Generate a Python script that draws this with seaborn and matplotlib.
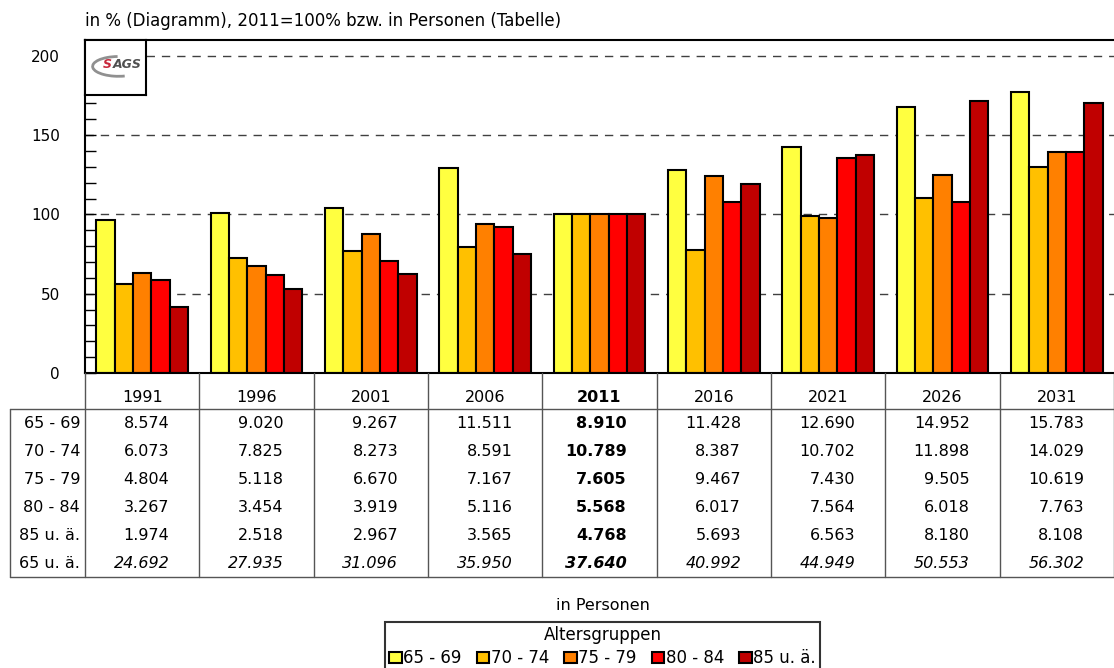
import numpy as np
import pandas as pd
import matplotlib
matplotlib.use("Agg")
import matplotlib.pyplot as plt
from matplotlib.patches import Patch, Arc
import seaborn as sns

# Daten
jahre = ["1991", "1996", "2001", "2006", "2011", "2016", "2021", "2026", "2031"]
gruppen = ["65 - 69", "70 - 74", "75 - 79", "80 - 84", "85 u. ä."]
farben = ["#FFFF40", "#FFC000", "#FF8000", "#FF0000", "#C00000"]

# Index 2011 = 100 (Diagramm)
idx_65_69 = [96.2, 101.2, 104.0, 129.2, 100.0, 128.3, 142.4, 167.8, 177.1]
idx_70_74 = [56.3, 72.5, 76.7, 79.6, 100.0, 77.7, 99.2, 110.3, 130.0]
idx_75_79 = [63.2, 67.3, 87.7, 94.2, 100.0, 124.5, 97.7, 125.0, 139.6]
idx_80_84 = [58.7, 62.0, 70.4, 91.9, 100.0, 108.1, 135.8, 108.1, 139.4]
idx_85 = [41.4, 52.8, 62.2, 74.8, 100.0, 119.4, 137.6, 171.6, 170.1]

# Personen (Tabelle)
pers_65_69 = [8574, 9020, 9267, 11511, 8910, 11428, 12690, 14952, 15783]
pers_70_74 = [6073, 7825, 8273, 8591, 10789, 8387, 10702, 11898, 14029]
pers_75_79 = [4804, 5118, 6670, 7167, 7605, 9467, 7430, 9505, 10619]
pers_80_84 = [3267, 3454, 3919, 5116, 5568, 6017, 7564, 6018, 7763]
pers_85 = [1974, 2518, 2967, 3565, 4768, 5693, 6563, 8180, 8108]
pers_gesamt = [24692, 27935, 31096, 35950, 37640, 40992, 44949, 50553, 56302]

index_werte = [idx_65_69, idx_70_74, idx_75_79, idx_80_84, idx_85]
tabelle = [pers_65_69, pers_70_74, pers_75_79, pers_80_84, pers_85, pers_gesamt]
zeilen = gruppen + ["65 u. ä."]

df = pd.DataFrame([
    {"Jahr": j, "Altersgruppe": g, "Index": v}
    for g, werte in zip(gruppen, index_werte)
    for j, v in zip(jahre, werte)
])

sns.set_style("white")
plt.rcParams["font.family"] = ["DejaVu Sans"]
plt.rcParams["font.size"] = 11
plt.rcParams["text.color"] = "black"
plt.rcParams["ytick.color"] = "black"
plt.rcParams["ytick.labelcolor"] = "black"

W, H = 1114, 668
fig = plt.figure(figsize=(W / 100, H / 100), dpi=100)


def fx(px):
    return px / W


def fy(py):
    return 1 - py / H


# Diagramm
ax = fig.add_axes([fx(85), fy(373), fx(W) - fx(85), fy(40) - fy(373)])
sns.barplot(data=df, x="Jahr", y="Index", hue="Altersgruppe", order=jahre,
            hue_order=gruppen, palette=farben, saturation=1, edgecolor="black",
            linewidth=1.5, legend=False, ax=ax)
ax.set_xlim(-0.5, 8.5)
ax.set_ylim(0, 210)
ax.set_yticks([0, 50, 100, 150, 200])
ax.set_yticks(np.arange(0, 211, 10), minor=True)
ax.tick_params(axis="y", which="both", left=True, direction="in", length=8,
               width=1, pad=18, labelsize=11, color="black", labelcolor="black")
ax.tick_params(axis="x", bottom=False, labelbottom=False)
ax.set_xlabel("")
ax.set_ylabel("")
ax.set_axisbelow(True)
for y in [50, 100, 150, 200]:
    ax.axhline(y, color="#404040", lw=1, ls=(0, (6, 5)), zorder=0)
ax.spines["right"].set_visible(False)
for s in ["left", "top", "bottom"]:
    ax.spines[s].set_linewidth(1.5)
    ax.spines[s].set_color("black")

fig.text(fx(85), fy(21), "in % (Diagramm), 2011=100% bzw. in Personen (Tabelle)",
         ha="left", va="center", fontsize=12)

# Logo
logo = fig.add_axes([fx(85), fy(95), fx(146) - fx(85), fy(40) - fy(95)])
logo.set_xticks([])
logo.set_yticks([])
logo.set_xlim(0, 1)
logo.set_ylim(0, 1)
for s in logo.spines.values():
    s.set_linewidth(1.5)
    s.set_color("black")
logo.add_patch(Arc((0.55, 0.52), 0.85, 0.36, theta1=95, theta2=300,
                   color="#909090", lw=2))
logo.text(0.3, 0.55, "S", color="#C8283C", fontsize=9, fontweight="bold",
          fontstyle="italic", ha="left", va="center")
logo.text(0.46, 0.55, "AGS", color="#505050", fontsize=9, fontweight="bold",
          fontstyle="italic", ha="left", va="center")

# Tabelle
tab = fig.add_axes([0, 0, 1, 1])
tab.set_xlim(0, W)
tab.set_ylim(H, 0)
tab.axis("off")
tab.patch.set_alpha(0)

spalte = (W - 85) / len(jahre)
kanten = [85 + spalte * k for k in range(len(jahre) + 1)]
linie = dict(color="#555555", lw=1)
tab.plot([10, W], [409, 409], **linie)
tab.plot([10, W], [577, 577], **linie)
tab.plot([10, 10], [409, 577], **linie)
for x in kanten:
    tab.plot([x, x], [373, 577], **linie)

for k, j in enumerate(jahre):
    fett = "bold" if j == "2011" else "normal"
    tab.text((kanten[k] + kanten[k + 1]) / 2, 397, j, ha="center", va="center",
             fontsize=11.5, fontweight=fett)

for r, (name, werte) in enumerate(zip(zeilen, tabelle)):
    yc = 423 + 28 * r
    tab.text(80, yc, name, ha="right", va="center", fontsize=11.5)
    for k, v in enumerate(werte):
        fett = "bold" if jahre[k] == "2011" else "normal"
        stil = "italic" if name == "65 u. ä." else "normal"
        tab.text(kanten[k + 1] - 30, yc, f"{v:,}".replace(",", "."),
                 ha="right", va="center", fontsize=11.5, fontweight=fett,
                 fontstyle=stil)

# Legende
fig.text(fx(602.5), fy(605), "in Personen", ha="center", va="center", fontsize=11.5)
handles = [Patch(facecolor=c, edgecolor="black", lw=1.5) for c in farben]
leg = fig.legend(handles, gruppen, title="Altersgruppen", ncol=5,
                 loc="upper center", bbox_to_anchor=(fx(602.5), fy(622)),
                 frameon=True, fancybox=False, edgecolor="black",
                 handlelength=0.75, handleheight=0.6, handletextpad=0.1,
                 columnspacing=0.9, borderpad=0.25, labelspacing=0.3,
                 borderaxespad=0, fontsize=12, title_fontsize=12)
leg.get_frame().set_linewidth(1.5)

fig.savefig("out.png", dpi=100)
